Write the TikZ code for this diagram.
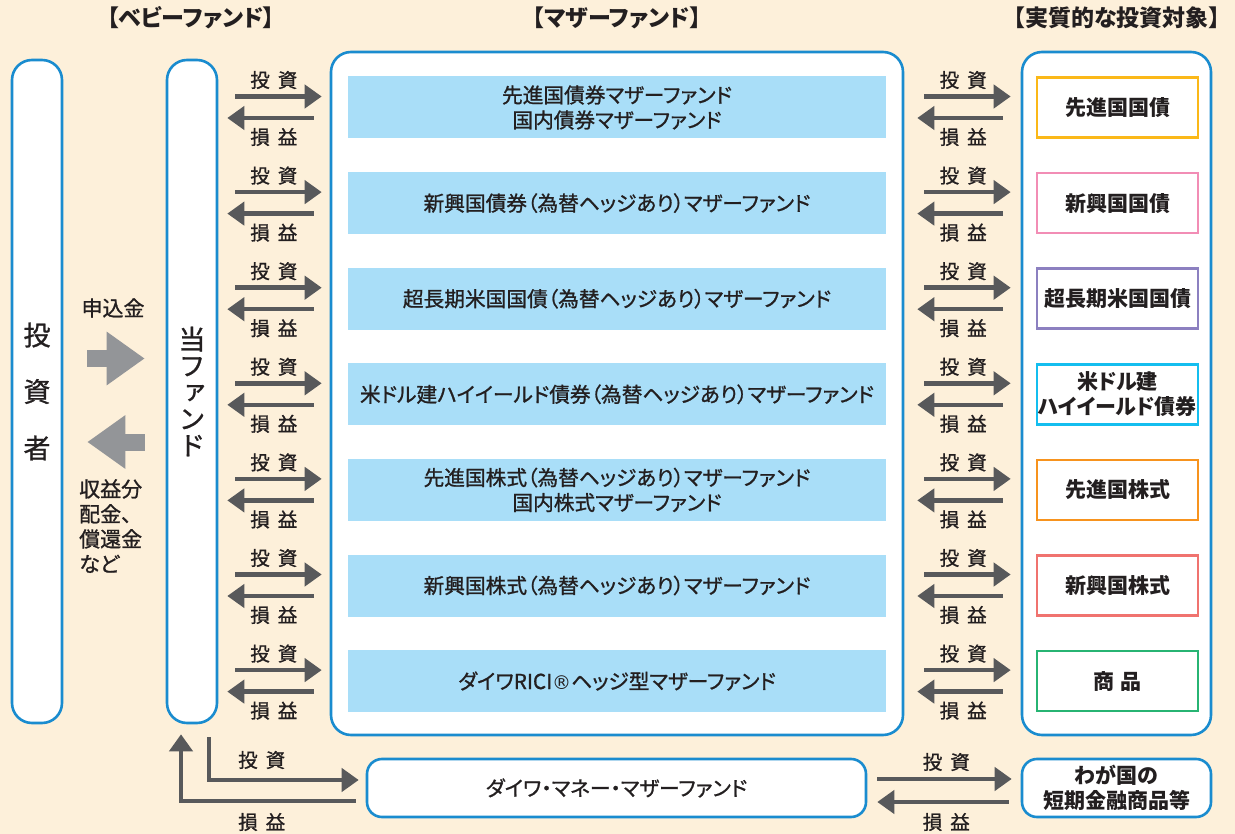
\documentclass[tikz,border=0pt]{standalone}
\usepackage{fontspec}
\usepackage{tikz}
\setmainfont{Noto Sans CJK JP}[RawFeature=+palt]
\newfontfamily\medjp{Noto Sans CJK JP}[RawFeature=+palt,FakeBold=1]
\newfontfamily\vertjp{Noto Sans CJK JP}[RawFeature=+vert,FakeBold=1]
\newfontfamily\symjp{DejaVu Sans}
\usetikzlibrary{arrows.meta,calc}
\definecolor{daiBlue}{HTML}{1A8CCF}
\definecolor{daiSky}{HTML}{A9DEF8}
\definecolor{daiCream}{HTML}{FDF0DA}
\definecolor{daiDark}{HTML}{58595B}
\definecolor{daiGray}{HTML}{939598}
\definecolor{daiText}{HTML}{231F20}
\definecolor{tgtYellow}{HTML}{FBB818}
\definecolor{tgtPink}{HTML}{F28DB5}
\definecolor{tgtPurple}{HTML}{8C80C0}
\definecolor{tgtCyan}{HTML}{14BEEF}
\definecolor{tgtOrange}{HTML}{F7931E}
\definecolor{tgtSalmon}{HTML}{F0736F}
\definecolor{tgtGreen}{HTML}{27B473}
\newcommand\invest{投\kern8pt資}
\newcommand\profit{損\kern8pt益}

\begin{document}
\begin{tikzpicture}[x=1pt,y=-1pt,
    every node/.style={text=daiText,inner sep=0pt},
    pill/.style={draw=daiBlue,line width=2.6pt,fill=white,rounded corners=20pt},
    mrow/.style={fill=daiSky,minimum width=538pt,minimum height=62pt,align=center,font=\medjp\fontsize{20.7}{25}\selectfont},
    trow/.style={fill=white,line width=2.6pt,minimum width=161pt,minimum height=60pt,align=center,font=\bfseries\fontsize{21}{25}\selectfont},
    head/.style={font=\bfseries\fontsize{23}{26}\selectfont},
    lbl/.style={font=\medjp\fontsize{19.5}{22}\selectfont},
    arr/.style={draw=daiDark,line width=4.5pt,-{Triangle[length=17pt,width=23pt]}},
    barr/.style={draw=daiGray,line width=17pt,-{Triangle[length=38pt,width=51pt]}}]
    \fill[daiCream] (0,0) rectangle (1235,834);
    \useasboundingbox (0,0) rectangle (1235,834);
    \node[head] (hbaby) at (191,18) {【ベビーファンド】};
    \node[head] (hmom) at (617,18) {【マザーファンド】};
    \node[head] (htgt) at (1117,18) {【実質的な投資対象】};
    \node[pill,minimum width=50pt,minimum height=663pt,align=center,font=\medjp\fontsize{27}{56.5}\selectfont] (inv) at (37,391.5) {投\\資\\者};
    \node[pill,minimum width=50pt,minimum height=663pt,align=center,font=\vertjp\fontsize{27}{26.5}\selectfont] (tou) at (192,391.5) {当\\フ\\ァ\\ン\\ド};
    \node[pill,minimum width=572pt,minimum height=683pt] (mom) at (617,393.5) {};
    \node[pill,minimum width=189pt,minimum height=683pt] (tgt) at (1116.5,393.5) {};
    \node[font=\medjp\fontsize{21}{24}\selectfont] (moshi) at (113,308) {申込金};
    \draw[barr] ($(inv.east)+(24,-33)$) -- ($(tou.west)+(-21,-33)$);
    \draw[barr] ($(tou.west)+(-21,50.5)$) -- ($(inv.east)+(24,50.5)$);
    \node[anchor=north west,align=left,font=\medjp\fontsize{21}{25}\selectfont] (shueki) at (79,479) {収益分\\配金、\\償還金\\など};
    \foreach \i/\mtxt/\bcol/\ttxt in {
        1/{先進国債券マザーファンド\\国内債券マザーファンド}/tgtYellow/{先進国国債},
        2/{新興国債券（為替ヘッジあり）マザーファンド}/tgtPink/{新興国国債},
        3/{超長期米国国債（為替ヘッジあり）マザーファンド}/tgtPurple/{超長期米国国債},
        4/{米ドル建ハイイールド債券（為替ヘッジあり）マザーファンド}/tgtCyan/{米ドル建\\ハイイールド債券},
        5/{先進国株式（為替ヘッジあり）マザーファンド\\国内株式マザーファンド}/tgtOrange/{先進国株式},
        6/{新興国株式（為替ヘッジあり）マザーファンド}/tgtSalmon/{新興国株式},
        7/{ダイワRICI{\symjp\fontsize{19}{25}\selectfont ®}ヘッジ型マザーファンド}/tgtGreen/{商\kern6pt品}}{
        \node[mrow] (m\i) at (617,{107.5+95.6*(\i-1)}) {\mtxt};
        \node[trow,draw=\bcol] (t\i) at (1117.5,{107.5+95.6*(\i-1)}) {\ttxt};
        \draw[arr] ($(tou.east |- m\i.center)+(17,-11)$) -- ($(mom.west |- m\i.center)+(-8,-11)$);
        \draw[arr] ($(mom.west |- m\i.center)+(-16,10.5)$) -- ($(tou.east |- m\i.center)+(9,10.5)$);
        \draw[arr] ($(mom.east |- m\i.center)+(20,-11)$) -- ($(tgt.west |- m\i.center)+(-10,-11)$);
        \draw[arr] ($(tgt.west |- m\i.center)+(-18,10.5)$) -- ($(mom.east |- m\i.center)+(13,10.5)$);
        \node[lbl] (ti\i) at ($(m\i.west)+(-74,-27.5)$) {\invest};
        \node[lbl] (si\i) at ($(m\i.west)+(-74,29.5)$) {\profit};
        \node[lbl] (to\i) at ($(m\i.east)+(77,-27.5)$) {\invest};
        \node[lbl] (so\i) at ($(m\i.east)+(77,29.5)$) {\profit};
    }
    \node[pill,rounded corners=15pt,minimum width=499pt,minimum height=58pt,font=\medjp\fontsize{20.7}{25}\selectfont] (mny) at (616.5,788) {ダイワ・マネー・マザーファンド};
    \node[pill,rounded corners=15pt,minimum width=189pt,minimum height=58pt,align=center,font=\bfseries\fontsize{21}{25}\selectfont] (tnk) at (1116.5,788) {わが国の\\短期金融商品等};
    \draw[arr] ($(tou.south)+(17,13)$) |- ($(mny.west)+(-7,-8)$);
    \draw[arr] ($(mny.west)+(-10,13)$) -| ($(tou.south)+(-11,10)$);
    \node[lbl] (bti) at ($(mny.west)+(-104,-28)$) {\invest};
    \node[lbl] (bsi) at ($(mny.west)+(-104,34)$) {\profit};
    \draw[arr] ($(mny.east)+(10,-9)$) -- ($(tnk.west)+(-9,-9)$);
    \draw[arr] ($(tnk.west)+(-12,14)$) -- ($(mny.east)+(10,14)$);
    \node[lbl] (bto) at ($(mny.east)+(79,-26)$) {\invest};
    \node[lbl] (bso) at ($(mny.east)+(79,34)$) {\profit};
\end{tikzpicture}
\end{document}
